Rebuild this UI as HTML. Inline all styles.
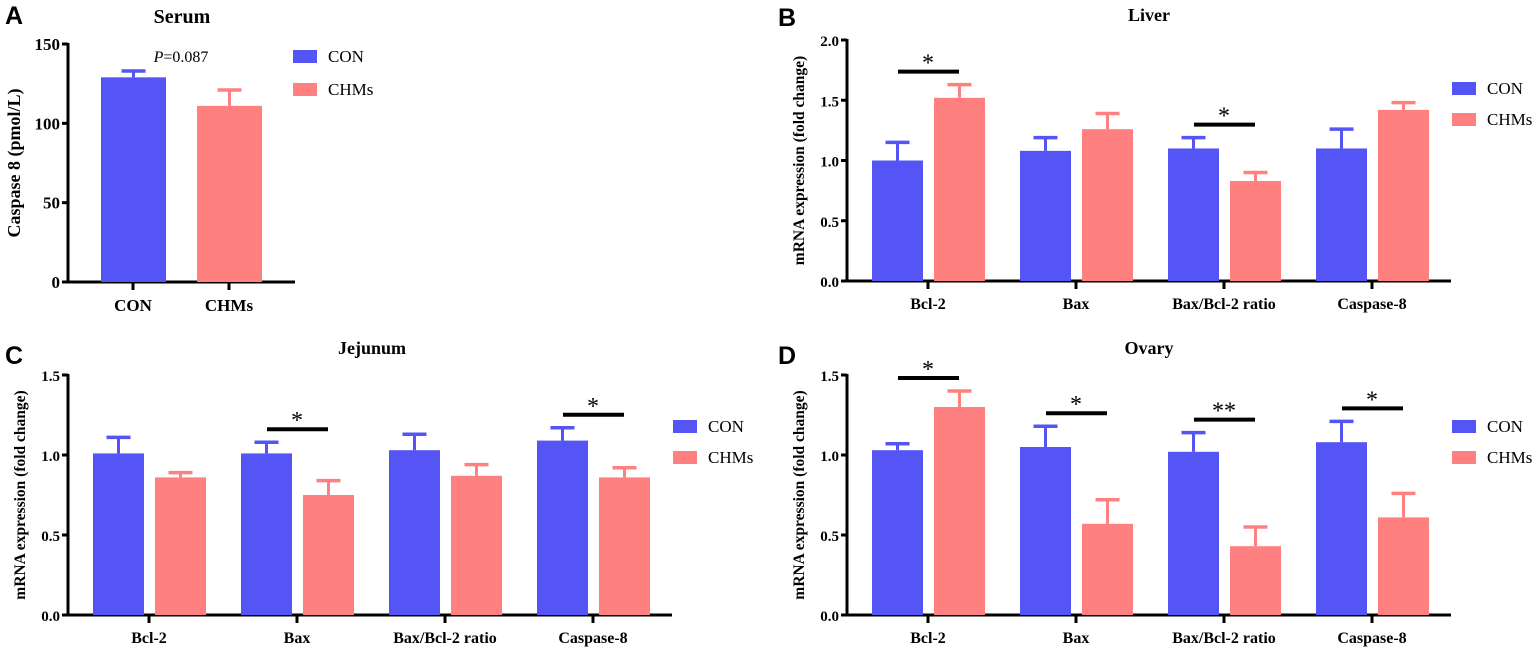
<!DOCTYPE html>
<html><head><meta charset="utf-8"><style>
body{margin:0;background:#fff}
svg{display:block;font-family:"Liberation Serif",serif}
</style></head><body>
<svg id="fig" width="1535" height="652" viewBox="0 0 1535 652"></svg>
<script>
const genes = ["Bcl-2","Bax","Bax/Bcl-2 ratio","Caspase-8"];
const serumCats = ["CON","CHMs"];
const serumVals = [129,111];
const serumErr = [133,121];
const yTicksA = [0,50,100,150];
const yTicks2 = [0.0,0.5,1.0,1.5,2.0];
const yTicks15 = [0.0,0.5,1.0,1.5];
const liverCon = [1.00,1.08,1.10,1.10];
const liverConErr = [1.15,1.19,1.19,1.26];
const liverChm = [1.52,1.26,0.83,1.42];
const liverChmErr = [1.63,1.39,0.90,1.48];
const liverSig = ["*","","*",""];
const jejCon = [1.01,1.01,1.03,1.09];
const jejConErr = [1.11,1.08,1.13,1.17];
const jejChm = [0.86,0.75,0.87,0.86];
const jejChmErr = [0.89,0.84,0.94,0.92];
const jejSig = ["","*","","*"];
const ovCon = [1.03,1.05,1.02,1.08];
const ovConErr = [1.07,1.18,1.14,1.21];
const ovChm = [1.30,0.57,0.43,0.61];
const ovChmErr = [1.40,0.72,0.55,0.76];
const ovSig = ["*","*","**","*"];

const BLUE="#5555f6", RED="#ff8080";
const svg=document.getElementById('fig');
const NS="http://www.w3.org/2000/svg";
function mk(tag,attrs,parent,text){const e=document.createElementNS(NS,tag);for(const k in attrs)e.setAttribute(k,attrs[k]);if(text!==undefined)e.textContent=text;(parent||svg).appendChild(e);return e;}

function legend(g,x,y1,y2){
  const a=mk('rect',{x:x,y:y1,width:24,height:13,fill:BLUE},g);
  
  
  const t1=mk('text',{x:x+35,y:y1+12,'font-size':17},g,'CON');
  
  
  const b=mk('rect',{x:x,y:y2,width:24,height:13,fill:RED},g);
  
  
  const t2=mk('text',{x:x+35,y:y2+12,'font-size':17},g,'CHMs');
  
  
}

function axes(g,ax,x1,y0,yTop,maxV,ticks,fmt,ylab,ylx,labSize,tickSize){
  const ys=v=>y0-(v/maxV)*(y0-yTop);
  const yl=mk('line',{x1:ax,y1:y0+1.5,x2:ax,y2:yTop-1,stroke:'#000','stroke-width':3},g);
  
  
  const xl=mk('line',{x1:ax-1.5,y1:y0,x2:x1,y2:y0,stroke:'#000','stroke-width':3},g);
  
  
  ticks.forEach(v=>{
    mk('line',{x1:ax-6,y1:ys(v),x2:ax,y2:ys(v),stroke:'#000','stroke-width':3},g);
    const t=mk('text',{x:ax-8,y:ys(v)+6,'font-size':tickSize,'font-weight':'bold','text-anchor':'end'},g,fmt(v));
    
    
  });
  const cy=(y0+yTop)/2;
  const l=mk('text',{x:ylx,y:cy,'font-size':labSize,'font-weight':'bold','text-anchor':'middle',transform:`rotate(-90 ${ylx} ${cy})`},g,ylab);
  
  
  return ys;
}

function bar(g,x,w,v,e,ys,color,name){
  const y=ys(v), ye=ys(e), cx=x+w/2;
  mk('line',{x1:cx,y1:y,x2:cx,y2:ye,stroke:color,'stroke-width':3},g);
  mk('line',{x1:cx-12,y1:ye,x2:cx+12,y2:ye,stroke:color,'stroke-width':3.5},g);
  const r=mk('rect',{x:x,y:y,width:w,height:ys(0)-y,fill:color},g);
  
  
}

// Panel A
(function(){
  const g=mk('g',{});
  
  
  const L=mk('text',{x:5,y:24,'font-size':25,'font-weight':'bold','font-family':'Liberation Sans'},g,'A');
  
  
  const T=mk('text',{x:182,y:23,'font-size':20,'font-weight':'bold','text-anchor':'middle'},g,'Serum');
  
  
  const ys=axes(g,68,295,282,44,150,yTicksA,v=>String(v),'Caspase 8 (pmol/L)',20,18,17);
  const centers=[133,229];
  serumCats.forEach((c,i)=>{
    bar(g,centers[i]-32,65,serumVals[i],serumErr[i],ys,i?RED:BLUE,'bar-serum-'+c.toLowerCase());
    mk('line',{x1:centers[i],y1:282,x2:centers[i],y2:290,stroke:'#000','stroke-width':3},g);
    const t=mk('text',{x:centers[i],y:311,'font-size':17,'font-weight':'bold','text-anchor':'middle'},g,c);
    
    
  });
  const p=mk('text',{x:181,y:62,'font-size':16,'text-anchor':'middle'},g);
  
  
  mk('tspan',{'font-style':'italic'},p,'P');
  mk('tspan',{},p,'=0.087');
  legend(g,293,50,83);
})();

function genePanel(o){
  const g=mk('g',{});
  
  
  const L=mk('text',{x:o.lx,y:o.ly,'font-size':25,'font-weight':'bold','font-family':'Liberation Sans'},g,o.letter);
  
  
  const T=mk('text',{x:o.tx,y:o.ty,'font-size':18,'font-weight':'bold','text-anchor':'middle'},g,o.title);
  
  
  const ys=axes(g,o.ax,o.ax+604,o.y0,o.yTop,o.max,o.ticks,v=>v.toFixed(1),'mRNA expression (fold change)',o.ax-43,15.5,15);
  genes.forEach((gn,i)=>{
    const c=o.ax+81+148*i;
    bar(g,c-56,51,o.con[i],o.conE[i],ys,BLUE,'bar-con-'+i);
    bar(g,c+6,51,o.chm[i],o.chmE[i],ys,RED,'bar-chms-'+i);
    mk('line',{x1:c,y1:o.y0,x2:c,y2:o.y0+8,stroke:'#000','stroke-width':3},g);
    const t=mk('text',{x:c,y:o.y0+28,'font-size':16,'font-weight':'bold','text-anchor':'middle'},g,gn);
    
    
    if(o.sig[i]){
      const top=Math.max(o.conE[i],o.chmE[i]);
      const sy=ys(top)-13;
      const sl=mk('line',{x1:c-30,y1:sy,x2:c+31,y2:sy,stroke:'#000','stroke-width':4},g);
      
      
      const st=mk('text',{x:c,y:sy-1,'font-size':24,'text-anchor':'middle'},g,o.sig[i]);
      
      
    }
  });
  legend(g,o.ax+605,o.legY,o.legY+31);
}

genePanel({name:'panel-b-liver',letter:'B',lx:778,ly:26,title:'Liver',tx:1149,ty:21,ax:847,y0:281,yTop:40,max:2.0,ticks:yTicks2,con:liverCon,conE:liverConErr,chm:liverChm,chmE:liverChmErr,sig:liverSig,legY:82});
genePanel({name:'panel-c-jejunum',letter:'C',lx:5,ly:364,title:'Jejunum',tx:372,ty:354,ax:68,y0:615,yTop:375,max:1.5,ticks:yTicks15,con:jejCon,conE:jejConErr,chm:jejChm,chmE:jejChmErr,sig:jejSig,legY:420});
genePanel({name:'panel-d-ovary',letter:'D',lx:778,ly:364,title:'Ovary',tx:1149,ty:354,ax:847,y0:615,yTop:375,max:1.5,ticks:yTicks15,con:ovCon,conE:ovConErr,chm:ovChm,chmE:ovChmErr,sig:ovSig,legY:420});
</script>
</body></html>
